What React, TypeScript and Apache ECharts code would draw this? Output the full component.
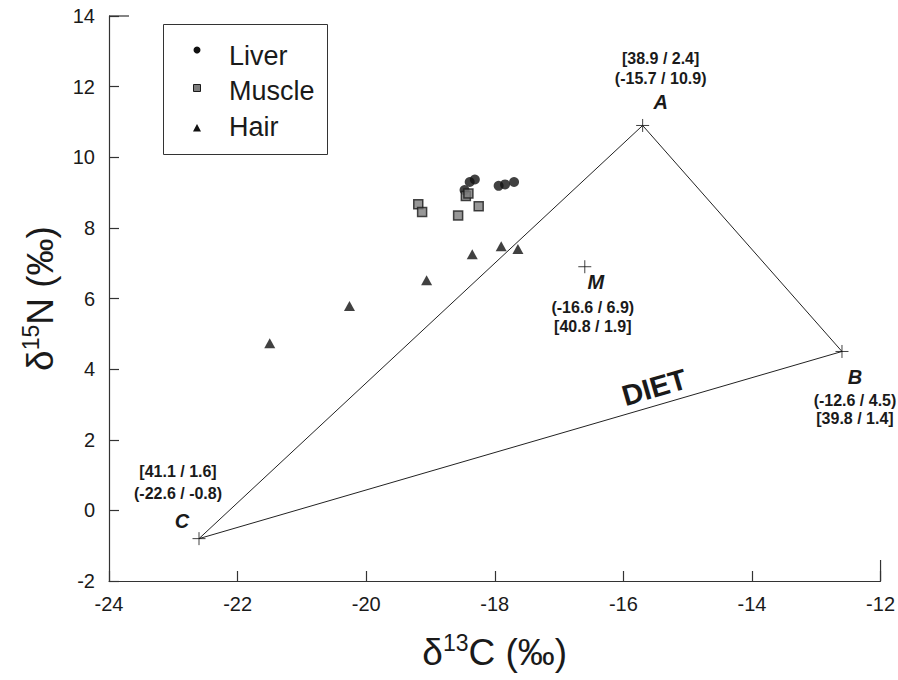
import React, { useEffect, useRef } from "react";
import * as echarts from "echarts";

// ---- data ----
const liverC = [-18.47, -18.39, -18.31, -17.94, -17.84, -17.7];
const liverN = [9.07, 9.3, 9.37, 9.19, 9.23, 9.3];
const muscleC = [-19.19, -19.13, -18.57, -18.45, -18.41, -18.25];
const muscleN = [8.67, 8.45, 8.35, 8.9, 8.97, 8.61];
const hairC = [-21.5, -20.26, -19.06, -18.35, -17.9, -17.64];
const hairN = [4.73, 5.79, 6.52, 7.25, 7.48, 7.4];

const vertexNames = ["A", "B", "C", "M"];
const vertexC = [-15.7, -12.6, -22.6, -16.6];
const vertexN = [10.9, 4.5, -0.8, 6.9];
const vertexParen = ["(-15.7 / 10.9)", "(-12.6 / 4.5)", "(-22.6 / -0.8)", "(-16.6 / 6.9)"];
const vertexBracket = ["[38.9 / 2.4]", "[39.8 / 1.4]", "[41.1 / 1.6]", "[40.8 / 1.9]"];
const triangleOrder = ["C", "A", "B", "C"];
const dietLabel = "DIET";
const legendNames = ["Liver", "Muscle", "Hair"];

const xMin = -24, xMax = -12, yMin = -2, yMax = 14, step = 2;

// ---- styles / layout ----
const FONT = "'Liberation Sans', Arial, Helvetica, sans-serif";
const INK = "#1a1a1a";
// label offsets relative to each vertex cross (px)
const labelLayout: Record<string, { dx: number; letter: number; paren: number; bracket: number; pdx: number }> = {
  A: { dx: 18, pdx: 18, letter: -23, paren: -47, bracket: -67 },
  B: { dx: 13, pdx: 13, letter: 26, paren: 49, bracket: 67 },
  C: { dx: -17, pdx: -21, letter: -18, paren: -45, bracket: -67 },
  M: { dx: 11, pdx: 8, letter: 15, paren: 41, bracket: 60 },
};

const zip = (a: number[], b: number[]) => a.map((v, i) => [v, b[i]]);

export default function App() {
  const ref = useRef<HTMLDivElement>(null);
  useEffect(() => {
    document.body.style.margin = "0";
    const chart = echarts.init(ref.current!, null, { renderer: "svg" });
    const idx = (n: string) => vertexNames.indexOf(n);
    const titleRich = {
      a: { fontSize: 37, fontFamily: FONT, color: INK, lineHeight: 42 },
      s: { fontSize: 23, fontFamily: FONT, color: INK, lineHeight: 24, verticalAlign: "top" },
    };
    const option: any = {
      animation: false,
      backgroundColor: "#ffffff",
      grid: { left: 109, right: 17, top: 16, bottom: 99 },
      xAxis: {
        type: "value",
        min: xMin,
        max: xMax,
        interval: step,
        axisLine: { show: true, onZero: false, lineStyle: { color: "#333", width: 1.2 } },
        axisTick: { show: true, inside: true, length: 10, lineStyle: { color: "#333", width: 1.2 } },
        axisLabel: { fontSize: 20, color: INK, fontFamily: FONT, margin: 13 },
        splitLine: { show: false },
        name: "{a|δ}{s|13}{a|C (‰)}",
        nameLocation: "middle",
        nameGap: 50,
        nameTextStyle: { rich: titleRich },
      },
      yAxis: {
        type: "value",
        min: yMin,
        max: yMax,
        interval: step,
        axisLine: { show: true, onZero: false, lineStyle: { color: "#333", width: 1.2 } },
        axisTick: { show: true, inside: true, length: 10, lineStyle: { color: "#333", width: 1.2 } },
        axisLabel: { fontSize: 20, color: INK, fontFamily: FONT, margin: 14 },
        splitLine: { show: false },
        name: "{a|δ}{s|15}{a|N (‰)}",
        nameLocation: "middle",
        nameRotate: 90,
        nameGap: 48,
        nameTextStyle: { rich: titleRich },
      },
      series: [
        {
          type: "line",
          data: triangleOrder.map((n) => [vertexC[idx(n)], vertexN[idx(n)]]),
          symbol: "none",
          lineStyle: { color: "#222", width: 1 },
          z: 1,
        },
        {
          type: "scatter",
          data: zip(vertexC, vertexN),
          symbol: "path://M0,10L20,10M10,0L10,20",
          symbolSize: 13,
          itemStyle: { color: "none", borderColor: "#111", borderWidth: 1 },
          z: 2,
        },
        {
          name: "Hair",
          type: "scatter",
          data: zip(hairC, hairN),
          symbol: "triangle",
          symbolSize: [11, 10],
          itemStyle: { color: "#111" },
          z: 3,
        },
        {
          name: "Muscle",
          type: "scatter",
          data: zip(muscleC, muscleN),
          symbol: "rect",
          symbolSize: 9,
          itemStyle: { color: "#7d7d7d", borderColor: "#1a1a1a", borderWidth: 1.5 },
          z: 4,
        },
        {
          name: "Liver",
          type: "scatter",
          data: zip(liverC, liverN),
          symbol: "circle",
          symbolSize: 10,
          itemStyle: { color: "#111" },
          z: 3,
        },
      ],
    };
    chart.setOption(option);

    const px = (c: number, n: number) => chart.convertToPixel({ gridIndex: 0 }, [c, n]) as number[];
    const graphics: any[] = [];
    const txt = (x: number, y: number, text: string, size: number, weight: string, style = "normal", align = "center", rotation = 0) => ({
      type: "text",
      x,
      y,
      rotation,
      silent: true,
      style: {
        text,
        fill: INK,
        font: `${style} ${weight} ${size}px ${FONT}`,
        align,
        verticalAlign: "middle",
        textAlign: align,
        textVerticalAlign: "middle",
      },
      z: 100,
    });

    vertexNames.forEach((n, i) => {
      const [x, y] = px(vertexC[i], vertexN[i]);
      const L = labelLayout[n];
      graphics.push(txt(x + L.dx, y + L.letter, n, 20, "bold", "italic"));
      graphics.push(txt(x + L.pdx, y + L.paren, vertexParen[i], 16, "bold"));
      graphics.push(txt(x + L.pdx, y + L.bracket, vertexBracket[i], 16, "bold"));
    });

    // DIET label along C-B edge
    const pC = px(vertexC[idx("C")], vertexN[idx("C")]);
    const pB = px(vertexC[idx("B")], vertexN[idx("B")]);
    const t = 0.716;
    const dx = pB[0] - pC[0], dy = pB[1] - pC[1];
    const len = Math.hypot(dx, dy);
    const ux = dx / len, uy = dy / len;
    const cx = pC[0] + t * dx + 18 * uy;
    const cy = pC[1] + t * dy - 18 * ux;
    graphics.push(txt(cx, cy, dietLabel, 29, "bold", "normal", "center", Math.atan2(-dy, dx)));

    // longer end ticks
    const pTop = px(xMin, yMax);
    const pRight = px(xMax, yMin);
    graphics.push({ type: "line", shape: { x1: pTop[0], y1: pTop[1], x2: pTop[0] + 20, y2: pTop[1] }, style: { stroke: "#333", lineWidth: 1.2 }, silent: true });
    graphics.push({ type: "line", shape: { x1: pRight[0], y1: pRight[1], x2: pRight[0], y2: pRight[1] - 21 }, style: { stroke: "#333", lineWidth: 1.2 }, silent: true });

    // legend box
    const lx = 163, ly = 24;
    graphics.push({ type: "rect", shape: { x: lx + 0.5, y: ly + 0.5, width: 164, height: 130 }, style: { fill: "#fff", stroke: "#333", lineWidth: 1 }, z: 50, silent: true });
    const ix = 197;
    const rows = [50, 88, 128];
    graphics.push({ type: "circle", shape: { cx: ix, cy: rows[0], r: 3.5 }, style: { fill: "#111" }, z: 60, silent: true });
    graphics.push({ type: "rect", shape: { x: ix - 3.5, y: rows[1] - 3.5, width: 7, height: 7 }, style: { fill: "#7d7d7d", stroke: "#1a1a1a", lineWidth: 1 }, z: 60, silent: true });
    graphics.push({ type: "polygon", shape: { points: [[ix - 4, rows[2] + 3.5], [ix + 4, rows[2] + 3.5], [ix, rows[2] - 4]] }, style: { fill: "#111" }, z: 60, silent: true });
    const textRows = [56, 91, 127];
    legendNames.forEach((name, i) => {
      graphics.push({ ...txt(229, textRows[i], name, 27, "normal", "normal", "left"), z: 60 });
    });

    chart.setOption({ graphic: graphics });
    return () => chart.dispose();
  }, []);
  return <div ref={ref} style={{ width: 898, height: 680 }} />;
}
